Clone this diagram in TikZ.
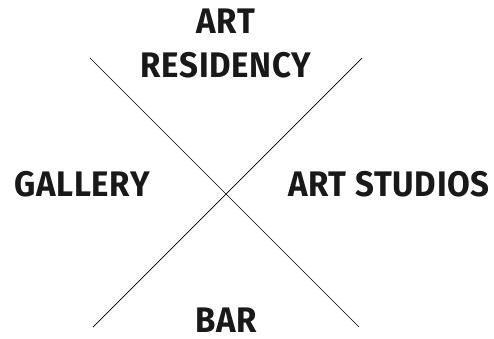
\documentclass[tikz,border=0pt]{standalone}
\usepackage{fontspec}
\setmainfont{Fira Sans}[FakeStretch=0.93,LetterSpace=2]
\begin{document}
\begin{tikzpicture}[x=1pt,y=-1pt,
  lbl/.style={inner sep=0pt,font=\fontsize{35.5}{44}\bfseries\selectfont,text=black!90},
  cross/.style={draw=black,line width=0.7pt}]
\useasboundingbox (0,0) rectangle (494,339);
\coordinate (tl) at (90,58);
\coordinate (br) at (359,327);
\coordinate (tr) at (362,58);
\coordinate (bl) at (93,327);
\draw[cross] (tl) -- (br);
\draw[cross] (tr) -- (bl);
\node[lbl,align=center,anchor=north] (top) at (226,8.5) {ART\\RESIDENCY};
\node[lbl] (left) at (82,184) {GALLERY};
\node[lbl] (right) at (389,184) {ART STUDIOS};
\node[lbl] (bottom) at (226,320.5) {BAR};
\end{tikzpicture}
\end{document}
